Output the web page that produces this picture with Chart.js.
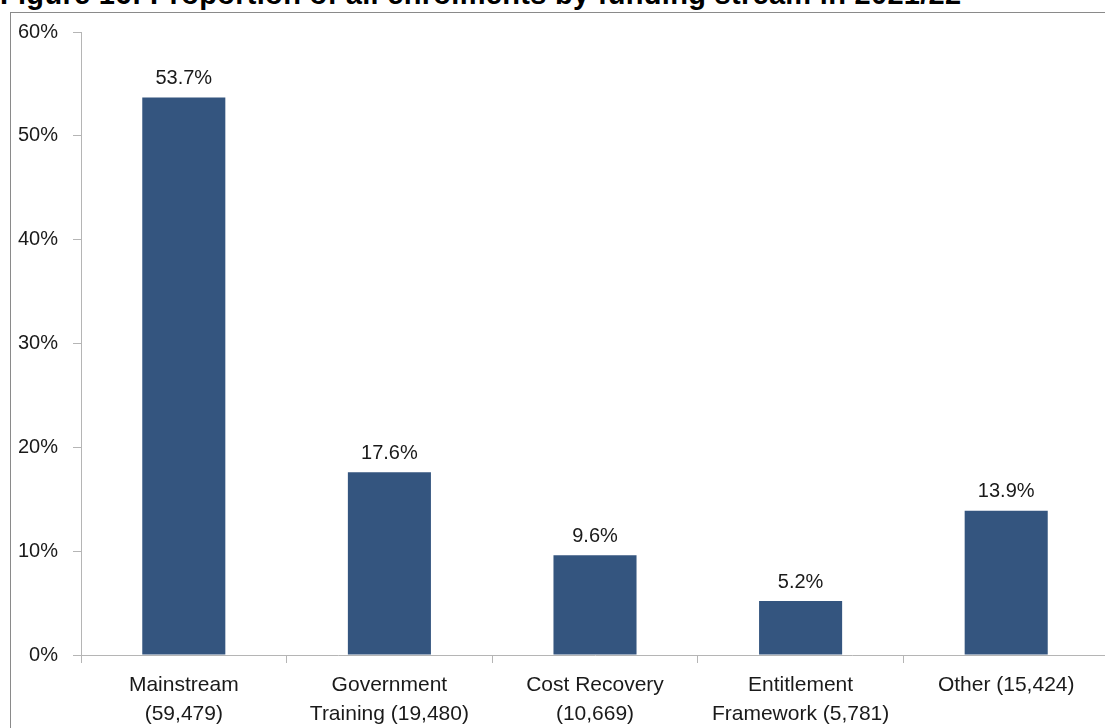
<!DOCTYPE html>
<html>
<head>
<meta charset="utf-8">
<script src="https://cdn.jsdelivr.net/npm/chart.js@4/dist/chart.umd.min.js"></script>
<style>
  html, body { margin: 0; padding: 0; background: #fff; overflow: hidden; width: 1105px; height: 728px; }
  #title { position: absolute; left: 0px; top: -22px; font-family: "Liberation Sans", sans-serif; font-weight: bold; font-size: 29px; letter-spacing: 0.3px; color: #000; white-space: nowrap; }
  #frame { position: absolute; left: 10px; top: 12px; width: 1200px; height: 800px; border-left: 1px solid #8a8a8a; border-top: 1px solid #8a8a8a; }
  #wrap { position: absolute; left: 11px; top: 5px; width: 1098px; height: 723px; }
</style>
</head>
<body>
<div id="title">Figure 16: Proportion of all enrolments by funding stream in 2021/22</div>
<div id="frame"></div>
<div id="wrap"><canvas id="c"></canvas></div>
<script>
const categories = [
  ['Mainstream', '(59,479)'],
  ['Government', 'Training (19,480)'],
  ['Cost Recovery', '(10,669)'],
  ['Entitlement', 'Framework (5,781)'],
  ['Other (15,424)']
];
const shares = [53.7, 17.6, 9.6, 5.2, 13.9];
const yTicks = [0, 10, 20, 30, 40, 50, 60];

const FONT = '"Liberation Sans", sans-serif';

const valueLabels = {
  id: 'valueLabels',
  afterDatasetsDraw(chart) {
    const ctx = chart.ctx;
    const meta = chart.getDatasetMeta(0);
    ctx.save();
    ctx.font = '20px ' + FONT;
    ctx.fillStyle = '#1a1a1a';
    ctx.textAlign = 'center';
    ctx.textBaseline = 'bottom';
    meta.data.forEach((bar, i) => {
      ctx.fillText(shares[i].toFixed(1) + '%', bar.x, bar.y - 9);
    });
    ctx.restore();
  }
};

new Chart(document.getElementById('c'), {
  type: 'bar',
  data: {
    labels: categories,
    datasets: [{
      data: shares,
      backgroundColor: '#34557f',
      borderWidth: 0,
      barPercentage: 0.404,
      categoryPercentage: 1.0
    }]
  },
  options: {
    responsive: true,
    maintainAspectRatio: false,
    animation: false,
    layout: { padding: { top: 11, right: 0, bottom: 0, left: 0 } },
    plugins: { legend: { display: false }, tooltip: { enabled: false }, title: { display: false } },
    scales: {
      x: {
        offset: true,
        grid: { offset: true, drawOnChartArea: false, drawTicks: true, tickLength: 8, color: '#b5b5b5', lineWidth: 1 },
        border: { display: true, color: '#b5b5b5', width: 1 },
        ticks: { color: '#1a1a1a', font: { family: FONT, size: 21, lineHeight: 1.38 }, padding: 8, maxRotation: 0, autoSkip: false },
        afterFit(scale) { scale.height = 73; }
      },
      y: {
        min: 0, max: 60,
        afterBuildTicks(scale) { scale.ticks = yTicks.map(v => ({ value: v })); },
        grid: { drawOnChartArea: false, drawTicks: true, tickLength: 8, color: '#b5b5b5', lineWidth: 1 },
        border: { display: true, color: '#b5b5b5', width: 1 },
        ticks: { color: '#1a1a1a', font: { family: FONT, size: 20 }, padding: 15, callback: v => v + '%' },
        afterFit(scale) { scale.width = 70; }
      }
    }
  },
  plugins: [valueLabels]
});
</script>
</body>
</html>
